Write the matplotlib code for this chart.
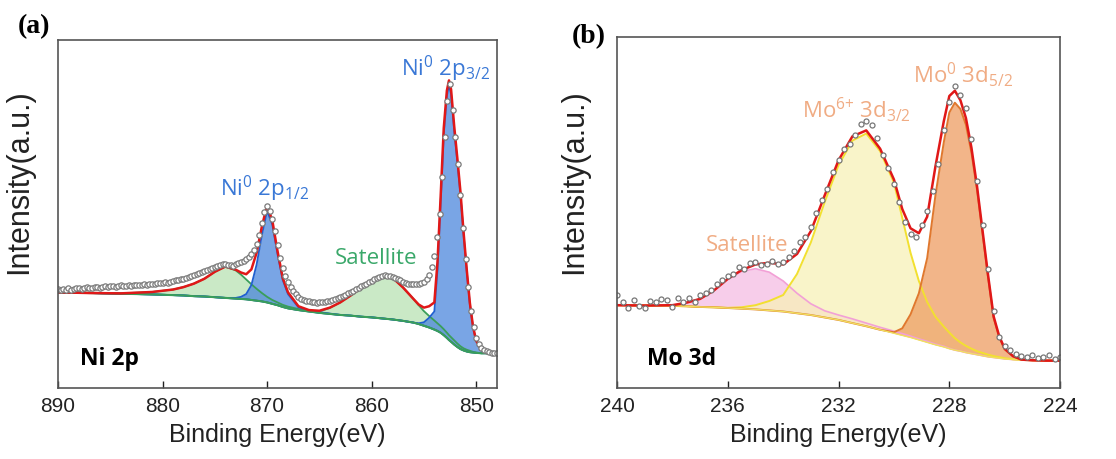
import matplotlib.pyplot as plt

plt.rcParams['font.family'] = ['Liberation Sans', 'DejaVu Sans']
plt.rcParams['mathtext.default'] = 'regular'

# ---- panel (a): Ni 2p ----
ni_e = [890, 887, 884, 881, 879, 878, 877, 876, 875, 874, 873, 872.5, 872, 871.5, 871, 870.5, 870,
        869.5, 869, 868.5, 868, 867, 866, 865, 864, 863, 862, 861, 860, 859, 858, 857, 856, 855.5,
        855, 854.5, 854, 853.7, 853.4, 853.1, 852.8, 852.6, 852.4, 852.1, 851.8, 851.5, 851.2,
        850.9, 850.6, 850.3, 850, 849.5, 849, 848]
ni_base = [27.5, 27.3, 27.1, 26.9, 26.7, 26.6, 26.4, 26.3, 26.1, 25.9, 25.7, 25.6, 25.5, 25.3, 25.1,
           24.9, 24.6, 24.2, 23.8, 23.3, 22.9, 22.4, 22.0, 21.6, 21.3, 21.0, 20.8, 20.5, 20.3, 20.0,
           19.7, 19.3, 18.8, 18.4, 17.9, 17.4, 16.8, 16.4, 15.9, 15.2, 14.4, 13.8, 13.3, 12.5, 11.8,
           11.2, 10.8, 10.5, 10.3, 10.2, 10.1, 10.0, 10.0, 10.0]
ni_sat1 = [27.5, 27.4, 27.2, 27.6, 28.3, 29.0, 30.0, 31.4, 33.4, 34.9, 33.8, 32.6, 31.2, 29.8, 28.5,
           27.3, 26.2, 25.3, 24.6, 23.9, 23.4, 22.7, 22.1, 21.6, 21.3, 21.0, 20.8, 20.5, 20.3, 20.0,
           19.7, 19.3, 18.8, 18.4, 17.9, 17.4, 16.8, 16.4, 15.9, 15.2, 14.4, 13.8, 13.3, 12.5, 11.8,
           11.2, 10.8, 10.5, 10.3, 10.2, 10.1, 10.0, 10.0, 10.0]
ni_p12 = [27.5, 27.3, 27.1, 26.9, 26.7, 26.6, 26.4, 26.3, 26.1, 25.9, 25.9, 26.2, 27.0, 29.6, 35.5,
          44.0, 50.9, 47.0, 38.5, 31.0, 27.0, 23.2, 22.3, 21.8, 21.4, 21.0, 20.8, 20.5, 20.3, 20.0,
          19.7, 19.3, 18.8, 18.4, 17.9, 17.4, 16.8, 16.4, 15.9, 15.2, 14.4, 13.8, 13.3, 12.5, 11.8,
          11.2, 10.8, 10.5, 10.3, 10.2, 10.1, 10.0, 10.0, 10.0]
ni_sat2 = [27.5, 27.3, 27.1, 26.9, 26.7, 26.6, 26.4, 26.3, 26.1, 25.9, 25.7, 25.6, 25.5, 25.3, 25.1,
           24.9, 24.6, 24.2, 23.8, 23.3, 22.9, 22.4, 22.0, 22.0, 23.0, 24.6, 26.6, 28.8, 30.6, 31.9,
           31.7, 28.9, 25.6, 23.8, 22.1, 20.7, 19.4, 18.6, 17.8, 16.9, 15.9, 15.2, 14.6, 13.7, 12.8,
           12.0, 11.4, 11.0, 10.7, 10.4, 10.2, 10.0, 10.0, 10.0]
ni_p32 = [27.5, 27.3, 27.1, 26.9, 26.7, 26.6, 26.4, 26.3, 26.1, 25.9, 25.7, 25.6, 25.5, 25.3, 25.1,
          24.9, 24.6, 24.2, 23.8, 23.3, 22.9, 22.4, 22.0, 21.6, 21.3, 21.0, 20.8, 20.5, 20.3, 20.0,
          19.7, 19.3, 18.8, 18.6, 18.9, 20.2, 22.0, 34.0, 53.0, 73.0, 84.0, 87.0, 84.5, 74.0, 65.0,
          55.5, 44.0, 33.5, 24.0, 17.5, 13.5, 11.0, 10.4, 10.0]
ni_env = [27.5, 27.3, 27.2, 27.6, 28.3, 29.0, 30.0, 31.4, 33.4, 34.9, 34.0, 33.2, 32.7, 34.1, 38.9,
          46.4, 52.5, 48.1, 39.3, 31.6, 27.5, 23.5, 22.4, 22.2, 23.1, 24.6, 26.6, 28.8, 30.6, 31.9,
          31.7, 28.9, 25.6, 24.0, 23.1, 23.5, 24.6, 36.2, 54.9, 74.7, 85.5, 88.4, 85.8, 75.2, 66.0,
          56.3, 44.6, 34.0, 24.4, 17.7, 13.6, 11.0, 10.4, 10.0]

ni_dot_e = [890, 889.75, 889.5, 889.25, 889, 888.75, 888.5, 888.25,
            888, 887.75, 887.5, 887.25, 887, 886.75, 886.5, 886.25,
            886, 885.75, 885.5, 885.25, 885, 884.75, 884.5, 884.25,
            884, 883.75, 883.5, 883.25, 883, 882.75, 882.5, 882.25,
            882, 881.75, 881.5, 881.25, 881, 880.75, 880.5, 880.25,
            880, 879.75, 879.5, 879.25, 879, 878.75, 878.5, 878.25,
            878, 877.75, 877.5, 877.25, 877, 876.75, 876.5, 876.25,
            876, 875.75, 875.5, 875.25, 875, 874.75, 874.5, 874.25,
            874, 873.75, 873.5, 873.25, 873, 872.75, 872.5, 872.25,
            872, 871.75, 871.5, 871.25, 871, 870.75, 870.5, 870.25,
            870, 869.75, 869.5, 869.25, 869, 868.75, 868.5, 868.25,
            868, 867.75, 867.5, 867.25, 867, 866.75, 866.5, 866.25,
            866, 865.75, 865.5, 865.25, 865, 864.75, 864.5, 864.25,
            864, 863.75, 863.5, 863.25, 863, 862.75, 862.5, 862.25,
            862, 861.75, 861.5, 861.25, 861, 860.75, 860.5, 860.25,
            860, 859.75, 859.5, 859.25, 859, 858.75, 858.5, 858.25,
            858, 857.75, 857.5, 857.25, 857, 856.75, 856.5, 856.25,
            856, 855.75, 855.5, 855.25, 855, 854.75, 854.5, 854.25,
            854, 853.75, 853.5, 853.25, 853, 852.75, 852.5, 852.25,
            852, 851.75, 851.5, 851.25, 851, 850.75, 850.5, 850.25,
            850, 849.75, 849.5, 849.25, 849, 848.75, 848.5, 848.25,
            848]
ni_dot_i = [28.4, 28.1, 28.5, 28.3, 28.6, 28.2, 28.5, 28.8,
            28.6, 28.4, 28.7, 28.9, 28.6, 28.8, 29.1, 28.9,
            28.7, 29.1, 29.3, 29.0, 29.2, 29.4, 29.1, 29.3,
            29.5, 29.2, 29.4, 29.6, 29.3, 29.5, 29.7, 29.5,
            29.6, 29.8, 29.6, 29.9, 30.0, 29.8, 30.1, 30.2,
            30.1, 30.4, 30.3, 30.6, 30.7, 30.9, 31.0, 31.3,
            31.4, 31.7, 31.9, 32.2, 32.4, 32.8, 33.0, 33.4,
            33.6, 34.0, 34.2, 34.6, 34.8, 35.2, 35.4, 35.6,
            35.5, 35.3, 35.4, 35.2, 35.6, 35.8, 36.1, 36.5,
            37.0, 37.6, 38.6, 39.8, 41.5, 44.0, 47.5, 50.5,
            52.3, 51.0, 48.5, 45.0, 41.0, 37.5, 34.5, 32.3,
            30.5, 29.0, 27.8, 26.9, 26.2, 25.7, 25.3, 25.1,
            24.9, 24.6, 24.7, 24.5, 24.6, 24.8, 24.7, 25.0,
            25.1, 25.3, 25.5, 25.8, 26.1, 26.4, 26.8, 27.2,
            27.6, 28.0, 28.4, 28.8, 29.2, 29.6, 30.0, 30.4,
            30.8, 31.2, 31.5, 31.9, 32.2, 32.4, 32.3, 32.2,
            32.0, 31.6, 31.2, 30.9, 30.5, 30.2, 30.0, 29.9,
            29.9, 29.8, 30.0, 30.2, 30.5, 31.2, 32.5, 34.8,
            38.0, 43.5, 50.0, 60.5, 72.0, 82.5, 87.5, 80.0,
            72.0, 64.5, 55.5, 46.0, 37.0, 29.0, 22.0, 17.5,
            14.5, 12.6, 11.5, 10.9, 10.6, 10.4, 10.2, 10.1,
            10.0]

# ---- panel (b): Mo 3d ----
mo_e = [240, 239, 238, 237.5, 237, 236.5, 236, 235.5, 235, 234.5, 234, 233.5, 233, 232.5, 232,
        231.5, 231, 230.5, 230, 229.7, 229.4, 229.1, 228.8, 228.5, 228.2, 228.0, 227.8, 227.6,
        227.4, 227.2, 227.0, 226.8, 226.6, 226.4, 226.2, 226.0, 225.7, 225.4, 225, 224.5, 224]
mo_base = [23.6, 23.5, 23.4, 23.3, 23.1, 23.0, 22.8, 22.6, 22.4, 22.1, 21.8, 21.3, 20.8, 20.1, 19.4,
           18.5, 17.6, 16.6, 15.6, 15.0, 14.4, 13.7, 13.0, 12.3, 11.7, 11.2, 10.8, 10.5, 10.1, 9.8,
           9.5, 9.2, 8.9, 8.7, 8.5, 8.3, 8.1, 8.0, 7.9, 7.8, 7.8]
mo_sat = [23.6, 23.5, 23.6, 24.3, 25.4, 27.8, 31.0, 33.2, 34.0, 33.0, 30.5, 27.0, 24.0, 22.0, 20.8,
          19.7, 18.5, 17.3, 16.2, 15.5, 14.8, 14.0, 13.3, 12.5, 11.9, 11.3, 10.8, 10.5, 10.1, 9.8,
          9.5, 9.2, 8.9, 8.7, 8.5, 8.3, 8.1, 8.0, 7.9, 7.8, 7.8]
mo_6 = [23.6, 23.5, 23.4, 23.3, 23.1, 23.0, 22.85, 23.0, 23.6, 24.8, 26.5, 32.5, 41.5, 53.0, 63.5,
        70.5, 72.5, 67.5, 58.5, 48.5, 38.5, 30.5, 24.5, 20.3, 17.5, 15.8, 14.2, 13.0, 12.0, 11.2,
        10.5, 10.0, 9.5, 9.1, 8.8, 8.5, 8.2, 8.0, 7.9, 7.8, 7.8]
mo_0 = [23.6, 23.5, 23.4, 23.3, 23.1, 23.0, 22.8, 22.6, 22.4, 22.1, 21.8, 21.3, 20.8, 20.1, 19.4,
        18.5, 17.6, 16.6, 15.9, 17.0, 21.0, 27.0, 37.0, 55.0, 70.0, 78.5, 81.3, 79.5, 75.0, 67.0,
        56.5, 44.0, 31.5, 20.0, 14.5, 11.0, 9.0, 8.1, 7.9, 7.8, 7.8]
mo_env = [23.6, 23.5, 23.6, 24.3, 25.4, 27.8, 31.1, 33.6, 35.2, 35.7, 35.2, 38.2, 44.7, 54.9, 64.9,
          71.7, 73.4, 68.2, 59.4, 51.0, 45.5, 44.1, 48.8, 63.2, 76.0, 83.2, 84.7, 82.0, 76.9, 68.4,
          57.5, 44.8, 32.1, 20.4, 14.8, 11.2, 9.1, 8.1, 7.9, 7.8, 7.8]

mo_dot_e = [240.0, 239.8, 239.6, 239.4, 239.2, 239.0, 238.8, 238.6, 238.4, 238.2, 238.0, 237.8,
            237.6, 237.4, 237.2, 237.0, 236.8, 236.6, 236.4, 236.2, 236.0, 235.8, 235.6, 235.4,
            235.2, 235.0, 234.8, 234.6, 234.4, 234.2, 234.0, 233.8, 233.6, 233.4, 233.2, 233.0,
            232.8, 232.6, 232.4, 232.2, 232.0, 231.8, 231.6, 231.4, 231.2, 231.0, 230.8, 230.6,
            230.4, 230.2, 230.0, 229.8, 229.6, 229.4, 229.2, 229.0, 228.8, 228.6, 228.4, 228.2,
            228.0, 227.8, 227.6, 227.4, 227.2, 227.0, 226.8, 226.6, 226.4, 226.2, 226.0, 225.8,
            225.6, 225.4, 225.2, 225.0, 224.8, 224.6, 224.4, 224.2, 224.0]
mo_dot_i = [26.4, 24.6, 22.8, 25.0, 23.4, 22.9, 24.9, 24.5, 25.3, 25.1, 23.0, 25.6, 24.6, 25.6,
            24.4, 26.6, 27.2, 27.9, 29.6, 30.8, 31.9, 32.6, 34.4, 34.0, 35.5, 36.0, 35.1, 35.4,
            36.2, 35.3, 35.8, 37.4, 38.9, 41.7, 42.9, 46.0, 49.8, 53.5, 56.8, 61.5, 65.0, 68.2,
            69.5, 72.2, 75.2, 76.0, 74.8, 71.2, 66.5, 62.8, 58.0, 53.0, 47.2, 44.0, 43.0, 46.5,
            50.5, 56.0, 63.8, 73.5, 81.5, 86.0, 83.5, 79.8, 71.0, 59.0, 46.5, 34.0, 22.0, 14.5,
            12.0, 10.8, 9.8, 9.2, 8.9, 9.4, 8.6, 8.8, 9.5, 8.4, 8.9]

fig = plt.figure(figsize=(11.16, 4.6), dpi=100)
ax1 = fig.add_axes([0.052, 0.1543, 0.3934, 0.7565])
ax2 = fig.add_axes([0.5529, 0.1543, 0.397, 0.763])

green_fill = '#b9e2b4'
green_line = '#3a9e5a'
blue_fill = '#4582dc'
blue_line = '#1f5fd0'
red = '#e01818'

# Ni 2p fills
ax1.fill_between(ni_e, ni_base, ni_sat1, color=green_fill, alpha=0.75, lw=0)
ax1.fill_between(ni_e, ni_base, ni_sat2, color=green_fill, alpha=0.75, lw=0)
ax1.fill_between(ni_e, ni_base, ni_p12, color=blue_fill, alpha=0.72, lw=0)
ax1.fill_between(ni_e, ni_base, ni_p32, color=blue_fill, alpha=0.72, lw=0)
ax1.plot(ni_e, ni_sat1, color=green_line, lw=1.3)
ax1.plot(ni_e, ni_sat2, color=green_line, lw=1.3)
ax1.plot(ni_e, ni_p12, color=blue_line, lw=1.3)
ax1.plot(ni_e, ni_p32, color=blue_line, lw=1.3)
ax1.plot(ni_e, ni_base, color=green_line, lw=1.5)
ax1.plot(ni_e, ni_env, color=red, lw=1.8)
ax1.plot(ni_dot_e, ni_dot_i, ls='none', marker='o', ms=3.8, mfc='white', mec='#7a7a7a', mew=0.9)

# Mo 3d fills
ax2.fill_between(mo_e, mo_base, mo_sat, color='#f4b8e2', alpha=0.7, lw=0)
ax2.fill_between(mo_e, mo_base, mo_6, color='#f7f1b8', alpha=0.75, lw=0)
ax2.fill_between(mo_e, mo_base, mo_0, color='#ee9d62', alpha=0.75, lw=0)
ax2.plot(mo_e, mo_sat, color='#f2a0d6', lw=1.2)
ax2.plot(mo_e, mo_6, color='#f2e030', lw=1.4)
ax2.plot(mo_e, mo_0, color='#e0782e', lw=1.4)
ax2.plot(mo_e, mo_base, color='#f0e060', lw=1.0)
ax2.plot(mo_e, mo_env, color=red, lw=1.8)
ax2.plot(mo_dot_e, mo_dot_i, ls='none', marker='o', ms=3.6, mfc='white', mec='#777777', mew=0.9)

for ax, xlim, ticks, lab_x, lab_y in [(ax1, (890, 848), [890, 880, 870, 860, 850], -0.055, 0.595),
                                      (ax2, (240, 224), [240, 236, 232, 228, 224], -0.062, 0.59)]:
    ax.set_xlim(*xlim)
    ax.set_ylim(0, 100)
    ax.set_xticks(ticks)
    ax.set_yticks([])
    ax.tick_params(axis='x', direction='in', length=5, width=1, labelsize=15, pad=6, colors='#222222')
    for s in ax.spines.values():
        s.set_color('#555555')
        s.set_linewidth(1.2)
    ax.set_xlabel('Binding Energy(eV)', fontsize=18, labelpad=5, color='#222222')
    ax.set_ylabel('Intensity(a.u.)', fontsize=22, color='#222222')
    ax.yaxis.set_label_coords(lab_x, lab_y)

tf = ['Open Sans', 'DejaVu Sans']
ax1.text(852.9, 92, r'Ni$^{0}$ 2p$_{3/2}$', color='#3a78d6', fontsize=16, family=tf, ha='center', va='center')
ax1.text(870.2, 57.5, r'Ni$^{0}$ 2p$_{1/2}$', color='#3a78d6', fontsize=16, family=tf, ha='center', va='center')
ax1.text(859.6, 37.5, 'Satellite', color='#3aa86a', fontsize=16, family=tf, ha='center', va='center')
ax1.text(887.9, 8.5, 'Ni 2p', color='black', fontsize=16.5, family=tf, fontweight='bold', ha='left', va='center')

ax2.text(227.5, 89.5, r'Mo$^{0}$ 3d$_{5/2}$', color='#f0ac84', fontsize=16, family=tf, ha='center', va='center')
ax2.text(231.37, 79.5, r'Mo$^{6{+}}$ 3d$_{3/2}$', color='#f0ac84', fontsize=16, family=tf, ha='center', va='center')
ax2.text(235.3, 41.0, 'Satellite', color='#f0ac84', fontsize=16, family=tf, ha='center', va='center')
ax2.text(238.9, 8.5, 'Mo 3d', color='black', fontsize=16.5, family=tf, fontweight='bold', ha='left', va='center')

fig.text(34 / 1116, 1 - 27 / 460, '(a)', fontsize=20, fontweight='bold', family='Liberation Serif',
         ha='center', va='center')
fig.text(589 / 1116, 1 - 37 / 460, '(b)', fontsize=20, fontweight='bold', family='Liberation Serif',
         ha='center', va='center')

fig.savefig('out.png', dpi=100)
